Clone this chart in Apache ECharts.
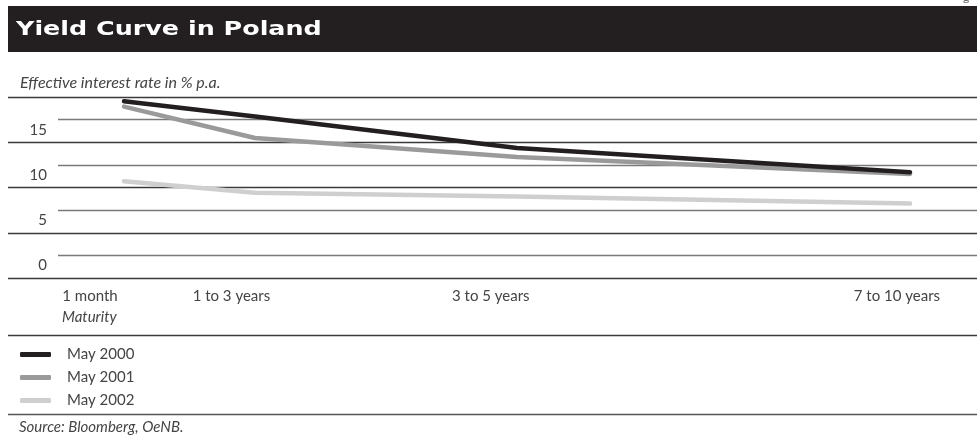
<!DOCTYPE html>
<html>
<head>
<meta charset="utf-8">
<script src="https://cdn.jsdelivr.net/npm/echarts@6/dist/echarts.min.js"></script>
<style>
html,body{margin:0;padding:0;background:#fff;}
#chart{width:977px;height:443px;}
</style>
</head>
<body>
<div id="chart"></div>
<script>
// ---- data ----
const categories = ['1 month', '1 to 3 years', '3 to 5 years', '7 to 10 years'];
const maturityScale = [1, 2, 4, 7];
const seriesNames = ['May 2000', 'May 2001', 'May 2002'];
const may2000 = [18.2, 16.5, 13.0, 10.3];
const may2001 = [17.6, 14.1, 12.0, 10.1];
const may2002 = [9.3, 8.0, 7.6, 6.8];
const yTicks = [0, 5, 10, 15];

// ---- layout ----
const labelAt = [0.74, 1.82, 3.80, 6.90];
const FONT = 'Lato, "Open Sans", sans-serif';
const colors = ['#231f20', '#9a9a9a', '#cfcfcf'];

const chart = echarts.init(document.getElementById('chart'), null, {renderer: 'canvas'});
const mk = (name, vals, i) => ({
  name, type: 'line', xAxisIndex: 0, yAxisIndex: 0,
  data: vals.map((v, k) => [maturityScale[k], v]),
  symbol: 'none', smooth: false,
  lineStyle: {color: colors[i], width: 4.5, cap: 'round', join: 'round'},
  itemStyle: {color: colors[i]},
  z: 10 - i
});

chart.setOption({
  animation: false,
  backgroundColor: '#fff',
  grid: [
    {left: 8, right: 0, top: 97, bottom: 165},
    {left: 58, right: 0, top: 97, bottom: 165}
  ],
  xAxis: [
    {gridIndex: 0, type: 'value', min: 0.1145, max: 7.511,
      axisLine: {show: false}, axisTick: {show: false}, splitLine: {show: false},
      axisLabel: {customValues: labelAt, margin: 11, color: '#444', fontFamily: FONT, fontSize: 15,
        formatter: v => { const i = labelAt.indexOf(v); return i >= 0 ? categories[i] : ''; }}},
    {gridIndex: 1, type: 'value', min: 0, max: 1, show: false}
  ],
  yAxis: [
    {gridIndex: 0, type: 'value', min: -1.48, max: 18.67,
      axisLine: {show: false}, axisTick: {show: false}, splitLine: {show: false},
      axisLabel: {customValues: yTicks, margin: -39, color: '#444', fontFamily: FONT, fontSize: 15}},
    {gridIndex: 0, type: 'value', min: 0, max: 4, interval: 1,
      axisLine: {show: false}, axisTick: {show: false}, axisLabel: {show: false},
      splitLine: {show: true, lineStyle: {color: '#3a3a3a', width: 1.3}}},
    {gridIndex: 1, type: 'value', min: 0, max: 8, interval: 1,
      axisLine: {show: false}, axisTick: {show: false}, axisLabel: {show: false},
      splitLine: {show: true, lineStyle: {color: ['rgba(0,0,0,0)', '#7a7a7a'], width: 1.3}}}
  ],
  legend: {
    orient: 'vertical', left: 15, top: 342, itemWidth: 31, itemHeight: 5, itemGap: 8,
    icon: 'roundRect', data: seriesNames,
    textStyle: {color: '#444', fontFamily: FONT, fontSize: 15, padding: [0, 0, 0, 11]}
  },
  series: [mk(seriesNames[0], may2000, 0), mk(seriesNames[1], may2001, 1), mk(seriesNames[2], may2002, 2)],
  graphic: [
    {type: 'rect', z: -1, shape: {x: 8, y: 6, width: 969, height: 46}, style: {fill: '#231f20'}},
    {type: 'text', x: 16, y: 20, scaleX: 1.27, style: {text: 'Yield Curve in Poland', fill: '#fff', font: 'bold 20px "DejaVu Sans"'}},
    {type: 'text', left: 963, top: -9, style: {text: 'g', fill: '#666', font: '12px ' + FONT}},
    {type: 'text', left: 20, top: 75, style: {text: 'Effective interest rate in % p.a.', fill: '#444', font: 'italic 16px ' + FONT}},
    {type: 'text', left: 62, top: 310, style: {text: 'Maturity', fill: '#444', font: 'italic 15px ' + FONT}},
    {type: 'line', shape: {x1: 8, y1: 335.5, x2: 977, y2: 335.5}, style: {stroke: '#3a3a3a', lineWidth: 1.3}},
    {type: 'line', shape: {x1: 8, y1: 414.5, x2: 977, y2: 414.5}, style: {stroke: '#555', lineWidth: 1.3}},
    {type: 'text', left: 19, top: 420, style: {text: 'Source: Bloomberg, OeNB.', fill: '#444', font: 'italic 15px ' + FONT}}
  ]
});
</script>
</body>
</html>
